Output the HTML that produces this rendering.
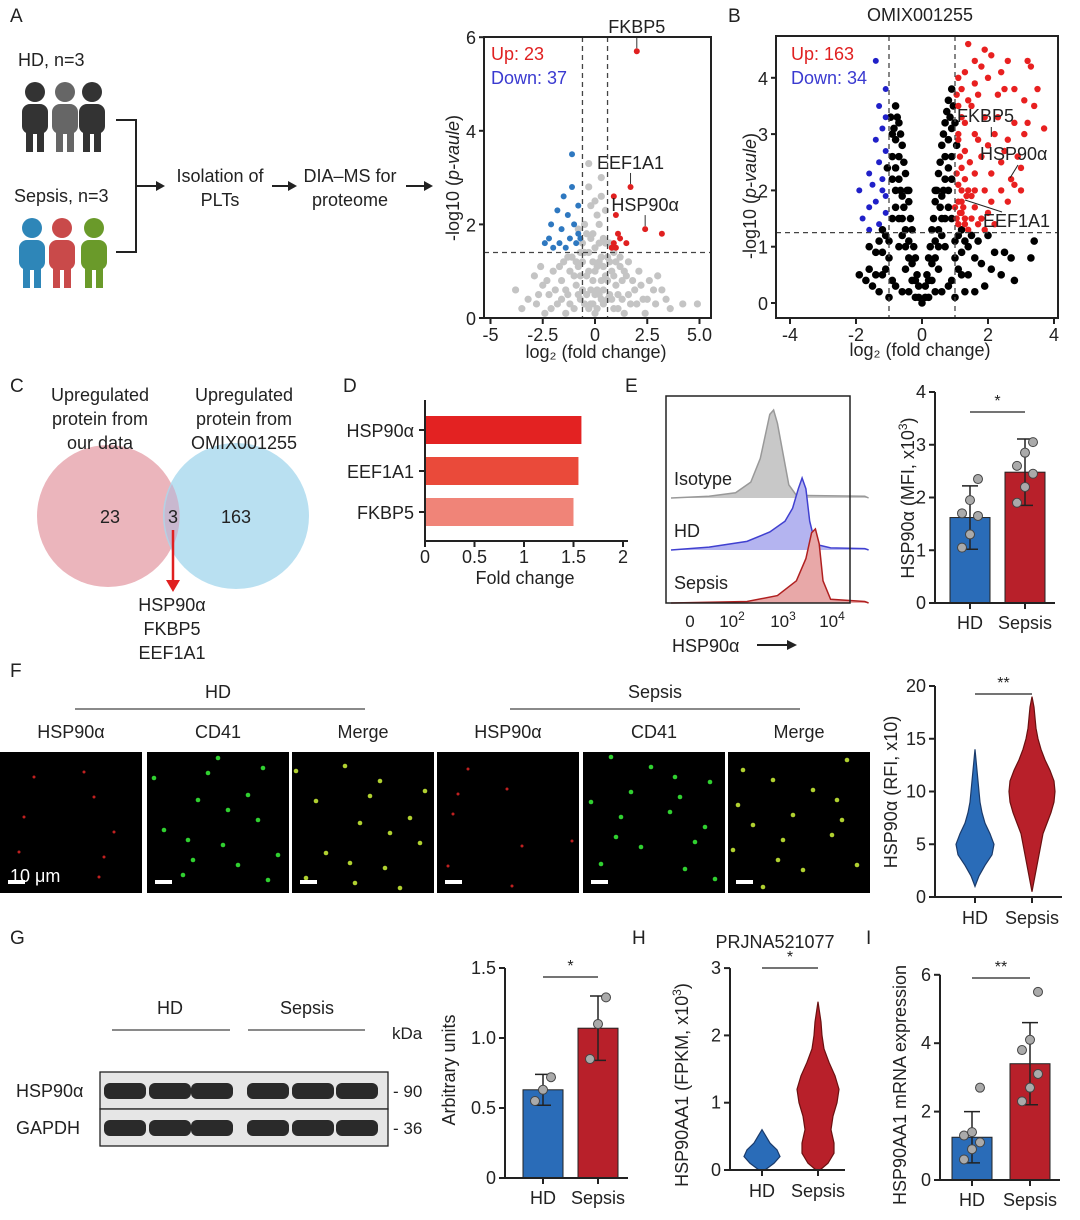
<!DOCTYPE html>
<html><head><meta charset="utf-8"><style>
body{margin:0;background:#fff}
svg{display:block;font-family:"Liberation Sans",Arial,sans-serif}
text{fill:#222}
</style></head><body>
<svg id="fig" width="1080" height="1220" viewBox="0 0 1080 1220">
<g font-size="19">
<text x="10" y="22">A</text>
<text x="728" y="22">B</text>
<text x="10" y="392">C</text>
<text x="343" y="392">D</text>
<text x="625" y="392">E</text>
<text x="10" y="677">F</text>
<text x="10" y="944">G</text>
<text x="632" y="944">H</text>
<text x="866" y="944">I</text>
</g>
<g font-size="18">
<text x="18" y="66">HD, n=3</text>
<text x="14" y="202">Sepsis, n=3</text>
<text x="220" y="182" text-anchor="middle">Isolation of</text>
<text x="220" y="206" text-anchor="middle">PLTs</text>
<text x="350" y="182" text-anchor="middle">DIA–MS for</text>
<text x="350" y="206" text-anchor="middle">proteome</text>
</g>
<g id="people"></g>
<g stroke="#222" stroke-width="2" fill="none">
<path d="M116 120 H136 V252 H116 M136 186 H158"/>
<path d="M272 186 H290 M406 186 H426"/>
</g>
<g fill="#222">
<path d="M165 186 l-9 -5 v10z"/>
<path d="M297 186 l-9 -5 v10z"/>
<path d="M433 186 l-9 -5 v10z"/>
</g>
<g id="volA"></g><g id="volB"></g>
<g>
<circle cx="108" cy="516" r="71" fill="#e8a8b0" opacity="0.85"/>
<circle cx="236" cy="516" r="73" fill="#a8d8ee" opacity="0.8"/>
<path d="M172 484 A71 71 0 0 1 172 548 A73 73 0 0 1 172 484" fill="#c9b8cf"/>
<g font-size="18" text-anchor="middle">
<text x="100" y="401">Upregulated</text><text x="100" y="425">protein from</text><text x="100" y="449">our data</text>
<text x="244" y="401">Upregulated</text><text x="244" y="425">protein from</text><text x="244" y="449">OMIX001255</text>
<text x="110" y="523">23</text><text x="173" y="523">3</text><text x="236" y="523">163</text>
<text x="172" y="611">HSP90α</text><text x="172" y="635">FKBP5</text><text x="172" y="659">EEF1A1</text>
</g>
<path d="M173 530 V584" stroke="#e02020" stroke-width="2.5"/><path d="M173 592 l-7 -12 h14z" fill="#e02020"/>
</g>
<g id="barD"></g>
<g id="flowE"></g><g id="barE"></g>
<g id="micro"></g><g id="violF"></g>
<g id="blot"></g><g id="barG"></g><g id="violH"></g><g id="barI"></g>
</svg>
<script>
const NS='http://www.w3.org/2000/svg';
function mk(tag,at,par){const e=document.createElementNS(NS,tag);for(const k in at)e.setAttribute(k,at[k]);if(par)par.appendChild(e);return e;}
function tx(par,x,y,s,at){const e=mk('text',Object.assign({x:x,y:y},at||{}),par);e.textContent=s;return e;}

// ---------- Data ----------
const volAGrey=[[-3.8,0.6],[-3.2,0.4],[-2.8,0.3],[-2.5,0.7],[-2.2,0.5],[-2.0,1.0],[-1.8,0.3],[-1.6,0.8],[-1.5,1.2],[-1.3,0.5],[-1.2,1.0],[-1.1,1.3],[-1.0,0.2],[-0.9,0.7],[-0.8,1.1],[-0.7,0.4],[-0.6,1.6],[-0.5,2.0],[-0.4,0.9],[-0.3,1.4],[-0.2,0.3],[-0.1,0.8],[0.0,0.1],[0.1,0.6],[0.2,1.2],[0.3,0.4],[0.4,1.7],[0.5,2.3],[0.5,0.9],[0.6,1.3],[0.7,0.5],[0.8,1.0],[0.9,0.2],[1.0,0.7],[1.2,1.1],[1.3,0.4],[1.5,0.9],[1.7,0.3],[1.9,0.6],[2.1,1.0],[2.3,0.4],[2.6,0.8],[2.9,0.3],[3.2,0.6],[3.6,0.2],[4.2,0.3],[4.9,0.3],[-0.3,3.3],[0.3,3.0],[-1.4,0.1],[1.4,0.1],[-2.4,0.1],[2.4,0.1],[-0.6,0.6],[0.6,0.4],[-0.2,2.4],[0.2,2.0],[-0.8,1.9],[0.9,1.4],[-1.6,0.4],[1.8,0.8],
[-2.9,0.9],[-2.7,0.5],[-2.3,0.8],[-2.1,0.2],[-1.9,0.6],[-1.7,1.1],[-1.4,0.6],[-1.2,0.3],[-1.0,0.9],[-0.9,1.2],[-0.8,0.5],[-0.7,0.9],[-0.6,1.2],[-0.5,0.3],[-0.5,1.4],[-0.4,0.5],[-0.4,1.8],[-0.3,1.0],[-0.3,0.2],[-0.2,1.7],[-0.2,0.6],[-0.1,1.2],[-0.1,0.3],[0.0,0.5],[0.0,1.0],[0.0,1.5],[0.1,0.2],[0.1,1.1],[0.2,0.5],[0.2,1.6],[0.3,0.8],[0.3,1.3],[0.4,0.3],[0.4,0.6],[0.4,1.1],[0.5,1.6],[0.6,0.8],[0.7,1.2],[0.8,0.4],[0.9,0.9],[1.0,1.2],[1.1,0.5],[1.1,0.2],[1.3,0.8],[1.4,1.0],[1.6,0.5],[1.6,1.2],[2.0,0.3],[2.2,0.7],[2.5,0.4],[2.8,0.6],[3.0,0.9],[3.4,0.4],[-3.5,0.2],[-2.6,1.1],[-0.1,1.8],[0.1,2.2],[-0.7,1.4],[0.7,1.6],[-1.3,1.3],[1.2,1.3],[0.0,2.5],[-0.3,2.8],[0.3,2.6]];
const volABlue=[[-2.4,1.6],[-2.1,2.0],[-2.0,1.5],[-1.8,2.3],[-1.6,1.9],[-1.5,2.6],[-1.3,2.2],[-1.2,1.7],[-1.1,2.8],[-1.0,2.0],[-0.9,1.6],[-0.8,2.4],[-0.8,1.8],[-1.1,3.5],[-1.4,1.5],[-0.7,1.7],[-1.7,1.6],[-2.2,1.7]];
const volARed=[[0.9,1.6],[1.0,2.2],[1.1,1.8],[0.8,1.5],[1.2,1.7],[1.5,1.6],[0.9,2.6],[1.0,1.5],[3.2,1.8]];
const volALabeled=[[2.0,5.7,'FKBP5'],[1.7,2.8,'EEF1A1'],[2.4,1.9,'HSP90α']];
const volBBlack=[[0,0],[-0.1,0.3],[0.1,0.3],[-0.2,0.8],[0.2,0.8],[-0.3,1.3],[0.3,1.3],[-0.4,1.8],[0.4,1.8],[-0.5,2.3],[0.5,2.3],[-0.6,2.8],[0.6,2.8],[-0.7,3.2],[0.7,3.2],[0.8,3.6],[-0.8,3.5],[0.9,3.8],[-0.3,0.4],[0.3,0.4],[-0.5,0.6],[0.5,0.6],[-0.7,1.0],[0.7,1.0],[-0.9,1.5],[0.9,1.5],[-0.8,2.0],[0.8,2.0],[-0.9,2.6],[0.9,2.6],[-1.0,0.8],[1.0,0.8],[-1.2,0.5],[1.2,0.5],[-1.4,0.9],[1.4,1.0],[-1.6,0.6],[1.6,0.8],[-1.5,0.3],[1.8,0.7],[2.0,1.2],[2.2,0.9],[2.4,0.5],[2.7,0.8],[3.3,0.8],[3.4,1.1],[2.8,0.4],[-0.6,0.2],[0.6,0.2],[-0.4,1.1],[0.4,1.1],[-0.6,1.5],[0.6,1.5],[-0.7,2.2],[0.7,2.2],[-0.8,2.9],[0.8,2.9],[1.0,3.2],[-1.1,1.2],[1.1,1.2],[-0.9,0.4],[0.9,0.4],[-1.3,0.2],[1.3,0.2],[-0.2,0.1],[0.2,0.1],[-1.7,0.4],[1.5,1.2],[2.1,0.6],[-0.5,1.3],[0.5,1.3],[-0.6,1.9],[0.6,1.9],[-0.7,2.6],[0.7,2.6],[-0.4,2.0],[0.4,2.0],
[-0.1,0.1],[0.1,0.1],[-0.15,0.5],[0.15,0.5],[-0.25,1.0],[0.25,1.0],[-0.35,1.5],[0.35,1.5],[-0.45,2.0],[0.45,2.0],[-0.55,2.5],[0.55,2.5],[-0.65,3.0],[0.65,3.0],[-0.75,3.3],[0.75,3.4],[0.85,3.3],[-0.85,3.1],[-0.2,0.4],[0.2,0.4],[-0.4,0.8],[0.4,0.8],[-0.5,1.0],[0.5,1.0],[-0.6,1.2],[0.6,1.2],[-0.7,1.5],[0.7,1.5],[-0.8,1.7],[0.8,1.7],[-0.8,2.4],[0.8,2.4],[-0.9,2.2],[0.9,2.2],[-0.9,3.0],[0.9,3.1],[-1.0,1.1],[1.0,1.1],[-1.1,0.6],[1.1,0.6],[-1.2,0.9],[1.2,0.9],[-1.3,1.1],[1.3,1.1],[-0.8,0.3],[0.8,0.3],[-1.0,0.1],[1.0,0.1],[-0.4,0.2],[0.4,0.2],[-0.3,0.7],[0.3,0.7],[-0.55,1.7],[0.55,1.7],[-0.65,2.0],[0.65,2.0],[-1.4,0.5],[1.4,0.5],[-1.6,1.0],[1.7,1.1],[-1.9,0.5],[1.9,0.3],[2.5,0.9],[1.6,0.2],[-1.2,1.3],[1.2,1.3],[0.95,3.5],[-0.95,3.3],[1.05,2.8],[-1.05,2.4]];
const volBBlue=[[-1.4,4.3],[-1.1,3.8],[-1.3,3.5],[-1.1,3.3],[-1.2,3.1],[-1.4,2.9],[-1.1,2.7],[-1.3,2.5],[-1.6,2.3],[-1.2,2.2],[-1.5,2.1],[-1.9,2.0],[-1.4,1.8],[-1.1,1.9],[-1.6,1.7],[-1.8,1.5],[-1.3,1.4],[-1.6,1.3],[-1.1,1.6],[-1.2,2.0]];
const volBRed=[[1.1,4.0],[1.4,4.6],[1.6,4.3],[1.9,4.5],[2.1,4.4],[2.6,4.3],[3.2,4.3],[3.3,4.2],[1.2,3.8],[1.6,3.9],[2.0,4.0],[2.5,3.8],[2.8,3.8],[1.1,3.5],[1.5,3.5],[3.1,3.6],[3.4,3.5],[1.3,3.2],[1.9,3.3],[2.3,3.3],[2.8,3.2],[3.7,3.1],[1.1,3.0],[1.6,3.0],[2.2,3.0],[2.6,2.9],[3.1,3.0],[1.3,2.7],[1.8,2.6],[2.4,2.5],[2.9,2.6],[1.2,2.4],[1.6,2.3],[2.1,2.3],[2.7,2.2],[3.0,2.4],[1.1,2.1],[1.4,2.0],[1.9,2.0],[2.4,2.0],[2.8,2.1],[1.2,1.8],[1.6,1.7],[2.1,1.8],[1.3,1.5],[1.8,1.5],[1.1,1.4],[1.4,1.3],[1.7,1.4],[2.0,1.6],[1.2,1.6],[1.0,1.7],[1.5,1.9],[2.5,2.7],[3.2,3.2],[1.7,3.7],[2.3,3.7],
[1.05,1.5],[1.15,1.6],[1.25,1.7],[1.1,1.8],[1.2,2.0],[1.05,2.3],[1.15,2.6],[1.1,2.9],[1.2,3.3],[1.05,3.7],[1.3,1.4],[1.35,1.9],[1.45,2.5],[1.5,1.5],[1.3,2.2],[1.6,2.0],[1.9,1.3],[2.2,1.4],[2.6,1.8],[3.0,2.0],[3.5,3.8],[2.0,2.8],[1.7,2.9],[1.4,3.6],[1.8,4.2],[2.4,4.1],[1.3,4.1]];
const barDCats=['HSP90α','EEF1A1','FKBP5'];
const barDVals=[1.58,1.55,1.50];
const barDTicks=['0','0.5','1','1.5','2'];
const barEMeans=[1.62,2.48];
const barESD=[0.6,0.63];
const barEPts=[[1.05,1.3,1.65,1.7,1.95,2.35],[1.9,2.2,2.45,2.6,2.85,3.05]];
const flowIso=[[0,0],[1,0.02],[1.7,0.06],[2.1,0.18],[2.35,0.45],[2.5,0.75],[2.6,0.95],[2.7,1.0],[2.8,0.85],[2.95,0.5],[3.1,0.15],[3.3,0.03],[5.1,0.02],[5.2,0]];
const flowHD=[[0,0],[1,0.04],[2,0.12],[2.6,0.25],[3.0,0.4],[3.2,0.58],[3.35,0.85],[3.45,1.0],[3.55,0.85],[3.65,0.4],[3.8,0.08],[4.2,0.03],[5.1,0.02],[5.2,0]];
const flowSep=[[0,0],[2,0.02],[2.8,0.1],[3.3,0.3],[3.55,0.6],[3.7,0.95],[3.8,1.0],[3.9,0.8],[4.0,0.3],[4.2,0.05],[5.1,0.02],[5.2,0]];
const violFY=[1,2,3,4,5,6,7,8,9,10,11,12,13,14];
const violFHD=[0,4,10,17,19,15,10,7,5,4,3,2,1,0];
const violFYs=[0.5,2,4,6,7,8,9,10,11,12,13,14,15,16,17,18,19];
const violFSep=[0,3,7,11,15,19,22,23,22,18,13,9,6,4,3,2,0];
const barGMeans=[0.63,1.07];
const barGSD=[0.11,0.23];
const barGPts=[[0.55,0.63,0.72],[0.85,1.1,1.29]];
const violHY=[0,0.1,0.2,0.3,0.4,0.5,0.6];
const violHHD=[3,12,18,15,8,4,0];
const violHYs=[0,0.1,0.25,0.4,0.6,0.8,1.0,1.2,1.4,1.6,1.8,2.0,2.2,2.5];
const violHSep=[2,10,16,16,13,15,19,21,17,11,6,4,3,0];
const barIMeans=[1.25,3.4];
const barISD=[0.75,1.2];
const barIPts=[[0.6,0.9,1.1,1.3,1.4,2.7],[2.3,2.7,3.1,3.8,4.1,5.5]];

function axis(par,x0,y0,x1,y1){mk('path',{d:`M${x0} ${y0} V${y1} H${x1}`,stroke:'#222','stroke-width':2,fill:'none'},par);}

(function(){const g=document.getElementById('people');
 const ppl=[[35,92,'#333'],[65,92,'#666'],[92,92,'#333'],[32,228,'#2e86b8'],[62,228,'#c94a4a'],[94,228,'#6a9a2a']];
 ppl.forEach((p,i)=>{const e=mk('g',{fill:p[2]},g);
 
 
 mk('circle',{cx:p[0],cy:p[1],r:10},e);mk('rect',{x:p[0]-13,y:p[1]+12,width:26,height:30,rx:8},e);
 mk('rect',{x:p[0]-9,y:p[1]+30,width:7,height:30},e);mk('rect',{x:p[0]+2,y:p[1]+30,width:7,height:30},e);});})();

(function(){const g=document.getElementById('volA');
 const X=v=>595+20.9*v, Y=v=>318-46.8*v;
 volAGrey.forEach(p=>{const c=mk('circle',{cx:X(p[0]),cy:Y(p[1]),r:3.6,fill:'#c4c4c4'},g);});
 volABlue.forEach(p=>{const c=mk('circle',{cx:X(p[0]),cy:Y(p[1]),r:3,fill:'#2e78c0'},g);});
 volARed.forEach(p=>{const c=mk('circle',{cx:X(p[0]),cy:Y(p[1]),r:3,fill:'#e02020'},g);});
 volALabeled.forEach(p=>{mk('circle',{cx:X(p[0]),cy:Y(p[1]),r:3,fill:'#e02020'},g);mk('line',{x1:X(p[0]),y1:Y(p[1])-3,x2:X(p[0]),y2:Y(p[1])-14,stroke:'#333'},g);
  const t=tx(g,X(p[0]),Y(p[1])-18,p[2],{'font-size':18,'text-anchor':'middle'});});
 [-0.6,0.6].forEach(v=>mk('line',{x1:X(v),x2:X(v),y1:37,y2:318,stroke:'#444','stroke-dasharray':'5 4','stroke-width':1.3},g));
 mk('line',{x1:484,x2:711,y1:Y(1.4),y2:Y(1.4),stroke:'#444','stroke-dasharray':'5 4','stroke-width':1.3},g);
 mk('rect',{x:484,y:37,width:227,height:281,fill:'none',stroke:'#222','stroke-width':2},g);
 [0,2,4,6].forEach(v=>{mk('line',{x1:479,x2:484,y1:Y(v),y2:Y(v),stroke:'#222','stroke-width':2},g);tx(g,476,Y(v)+7,String(v),{'font-size':18,'text-anchor':'end'});});
 [['-5',-5],['-2.5',-2.5],['0',0],['2.5',2.5],['5.0',5]].forEach(t=>{mk('line',{x1:X(t[1]),x2:X(t[1]),y1:318,y2:324,stroke:'#222','stroke-width':2},g);tx(g,X(t[1]),341,t[0],{'font-size':18,'text-anchor':'middle'});});
 tx(g,596,358,'log₂ (fold change)',{'font-size':18,'text-anchor':'middle'});
 const yt=tx(g,0,0,'',{'font-size':18,'text-anchor':'middle',transform:'translate(459 178) rotate(-90)'});yt.innerHTML='-log10 (<tspan font-style="italic">p-vaule</tspan>)';
 
 tx(g,491,60,'Up: 23',{'font-size':18,style:'fill:#e02020'});
 tx(g,491,84,'Down: 37',{'font-size':18,style:'fill:#3a3ad0'});
})();

(function(){const g=document.getElementById('volB');
 const X=v=>922+33*v, Y=v=>303-56.3*v;
 tx(g,920,21,'OMIX001255',{'font-size':18,'text-anchor':'middle'});
 volBBlack.forEach(p=>{const c=mk('circle',{cx:X(p[0]),cy:Y(p[1]),r:3.8,fill:'#000'},g);});
 volBBlue.forEach(p=>{const c=mk('circle',{cx:X(p[0]),cy:Y(p[1]),r:3,fill:'#2020c8'},g);});
 volBRed.forEach(p=>{const c=mk('circle',{cx:X(p[0]),cy:Y(p[1]),r:3.2,fill:'#e82020'},g);});
 [-1,1].forEach(v=>mk('line',{x1:X(v),x2:X(v),y1:36,y2:318,stroke:'#444','stroke-dasharray':'5 4','stroke-width':1.3},g));
 mk('line',{x1:776,x2:1058,y1:Y(1.25),y2:Y(1.25),stroke:'#444','stroke-dasharray':'5 4','stroke-width':1.3},g);
 mk('rect',{x:776,y:36,width:282,height:282,fill:'none',stroke:'#222','stroke-width':2},g);
 [0,1,2,3,4].forEach(v=>{mk('line',{x1:771,x2:776,y1:Y(v),y2:Y(v),stroke:'#222','stroke-width':2},g);tx(g,768,Y(v)+7,String(v),{'font-size':18,'text-anchor':'end'});});
 [-4,-2,0,2,4].forEach(v=>{mk('line',{x1:X(v),x2:X(v),y1:318,y2:324,stroke:'#222','stroke-width':2},g);tx(g,X(v),341,String(v),{'font-size':18,'text-anchor':'middle'});});
 tx(g,920,356,'log₂ (fold change)',{'font-size':18,'text-anchor':'middle'});
 const yt=tx(g,0,0,'',{'font-size':18,'text-anchor':'middle',transform:'translate(756 196) rotate(-90)'});yt.innerHTML='-log10 (<tspan font-style="italic">p-vaule</tspan>)';
 tx(g,791,60,'Up: 163',{'font-size':18,style:'fill:#e02020'});
 tx(g,791,84,'Down: 34',{'font-size':18,style:'fill:#3a3ad0'});
 tx(g,957,122,'FKBP5',{'font-size':18});mk('line',{x1:X(2.1),y1:127,x2:X(2.1),y2:137,stroke:'#222'},g);
 tx(g,980,160,'HSP90α',{'font-size':18});mk('line',{x1:1018,y1:165,x2:1010,y2:178,stroke:'#222'},g);
 tx(g,983,227,'EEF1A1',{'font-size':18});mk('line',{x1:965,y1:200,x2:1002,y2:212,stroke:'#222'},g);
})();

(function(){const g=document.getElementById('barD');
 const X=v=>425+99*v; const cols=['#e32222','#ea4a3a','#f08478'];
 barDCats.forEach((c,i)=>{const y=416+i*41;const r=mk('rect',{x:425,y:y,width:X(barDVals[i])-425,height:28,fill:cols[i]},g);
  
  mk('line',{x1:419,x2:425,y1:y+14,y2:y+14,stroke:'#222','stroke-width':2},g);
  tx(g,414,y+21,c,{'font-size':18,'text-anchor':'end'});});
 axis(g,425,400,628,541);
 barDTicks.forEach((t,i)=>{const x=X(i*0.5);mk('line',{x1:x,x2:x,y1:541,y2:547,stroke:'#222','stroke-width':2},g);tx(g,x,563,t,{'font-size':18,'text-anchor':'middle'});});
 tx(g,525,584,'Fold change',{'font-size':18,'text-anchor':'middle'});
})();

(function(){const g=document.getElementById('flowE');
 const X=v=>671+v*38, base=[498,550,603], H=[88,72,74];
 const sets=[[flowIso,'#c8c8c8','#999','isotype-histogram'],[flowHD,'#b4b4f0','#4040d0','hd-histogram'],[flowSep,'#e8a8a8','#b02020','sepsis-histogram']];
 sets.forEach((s,i)=>{let d=`M${X(s[0][0][0])} ${base[i]}`;s[0].forEach(p=>d+=` L${X(p[0])} ${base[i]-p[1]*H[i]}`);d+=` L${X(s[0][s[0].length-1][0])} ${base[i]}`;
  const p=mk('path',{d:d,fill:s[1],stroke:s[2],'stroke-width':1.5},g);});
 mk('rect',{x:666,y:396,width:184,height:207,fill:'none',stroke:'#222','stroke-width':1.5},g);
 tx(g,674,485,'Isotype',{'font-size':18});tx(g,674,537,'HD',{'font-size':18});tx(g,674,589,'Sepsis',{'font-size':18});
 tx(g,690,627,'0',{'font-size':17,'text-anchor':'middle'});
 const t2=tx(g,732,627,'',{'font-size':17,'text-anchor':'middle'});t2.innerHTML='10<tspan dy="-7" font-size="12">2</tspan>';
 const t3=tx(g,783,627,'',{'font-size':17,'text-anchor':'middle'});t3.innerHTML='10<tspan dy="-7" font-size="12">3</tspan>';
 const t4=tx(g,832,627,'',{'font-size':17,'text-anchor':'middle'});t4.innerHTML='10<tspan dy="-7" font-size="12">4</tspan>';
 tx(g,672,652,'HSP90α',{'font-size':18});mk('path',{d:'M757 645 H788',stroke:'#222','stroke-width':2},g);mk('path',{d:'M797 645 l-10 -5 v10z',fill:'#222'},g);
})();

function barChart(id,ax,y0,pxPer,ticks,tickLbl,means,sds,pts,cx,yTitle,titleX,titleY,sig,sigY,maxY){
 const g=document.getElementById(id);const Y=v=>y0-pxPer*v; const cols=['#2a6cb8','#b8202a'];
 means.forEach((m,i)=>{const r=mk('rect',{x:cx[i]-20,y:Y(m),width:40,height:y0-Y(m),fill:cols[i],stroke:'#222','stroke-width':1},g);
  
  mk('path',{d:`M${cx[i]} ${Y(m-sds[i])} V${Y(m+sds[i])} M${cx[i]-8} ${Y(m-sds[i])} h16 M${cx[i]-8} ${Y(m+sds[i])} h16`,stroke:'#222','stroke-width':1.5,fill:'none'},g);
  pts[i].forEach((v,j)=>{const c=mk('circle',{cx:cx[i]+((j%3)-1)*8,cy:Y(v),r:4.5,fill:'#aaa',stroke:'#444'},g);});});
 axis(g,ax,Y(maxY),cx[1]+30,y0);
 ticks.forEach((v,i)=>{mk('line',{x1:ax-6,x2:ax,y1:Y(v),y2:Y(v),stroke:'#222','stroke-width':2},g);tx(g,ax-9,Y(v)+6,tickLbl[i],{'font-size':18,'text-anchor':'end'});});
 ['HD','Sepsis'].forEach((s,i)=>{mk('line',{x1:cx[i],x2:cx[i],y1:y0,y2:y0+6,stroke:'#222','stroke-width':2},g);tx(g,cx[i],y0+26,s,{'font-size':18,'text-anchor':'middle'});});
 mk('line',{x1:cx[0],x2:cx[1],y1:sigY,y2:sigY,stroke:'#222','stroke-width':1.3},g);tx(g,(cx[0]+cx[1])/2,sigY-6,sig,{'font-size':16,'text-anchor':'middle'});
 const t=tx(g,0,0,'',{'font-size':18,'text-anchor':'middle',transform:`translate(${titleX} ${titleY}) rotate(-90)`});t.innerHTML=yTitle;
 
 return g;}
barChart('barE',935,603,52.75,[0,1,2,3,4],['0','1','2','3','4'],barEMeans,barESD,barEPts,[970,1025],'HSP90α (MFI, x10<tspan dy="-7" font-size="12">3</tspan><tspan dy="7">)</tspan>',914,498,'*',412,4);
barChart('barG',505,1178,140,[0,0.5,1,1.5],['0','0.5','1.0','1.5'],barGMeans,barGSD,barGPts,[543,598],'Arbitrary units',455,1070,'*',977,1.5);
barChart('barI',940,1180,34.2,[0,2,4,6],['0','2','4','6'],barIMeans,barISD,barIPts,[972,1030],'HSP90AA1 mRNA expression',906,1085,'**',978,6);

function violin(id,ax,y0,pxPer,ticks,series,cx,yTitle,titleX,titleY,sig,sigY,maxY,xEnd){
 const g=document.getElementById(id);const Y=v=>y0-pxPer*v;const cols=[['#2a6cb8','#1a3a6a'],['#b8202a','#6a1010']];
 series.forEach((s,i)=>{const ys=s[0],ws=s[1];let d='';ys.forEach((v,j)=>d+=(j?' L':'M')+(cx[i]+ws[j])+' '+Y(v));for(let j=ys.length-1;j>=0;j--)d+=` L${cx[i]-ws[j]} ${Y(ys[j])}`;d+='Z';
  const p=mk('path',{d:d,fill:cols[i][0],stroke:cols[i][1],'stroke-width':1.2},g);});
 axis(g,ax,Y(maxY),xEnd,y0);
 ticks.forEach(v=>{mk('line',{x1:ax-6,x2:ax,y1:Y(v),y2:Y(v),stroke:'#222','stroke-width':2},g);tx(g,ax-9,Y(v)+6,String(v),{'font-size':18,'text-anchor':'end'});});
 ['HD','Sepsis'].forEach((s,i)=>{mk('line',{x1:cx[i],x2:cx[i],y1:y0,y2:y0+6,stroke:'#222','stroke-width':2},g);tx(g,cx[i],y0+27,s,{'font-size':18,'text-anchor':'middle'});});
 mk('line',{x1:cx[0],x2:cx[1],y1:sigY,y2:sigY,stroke:'#222','stroke-width':1.3},g);tx(g,(cx[0]+cx[1])/2,sigY-6,sig,{'font-size':16,'text-anchor':'middle'});
 const t=tx(g,0,0,'',{'font-size':18,'text-anchor':'middle',transform:`translate(${titleX} ${titleY}) rotate(-90)`});t.innerHTML=yTitle;
 }
violin('violF',935,897,10.55,[0,5,10,15,20],[[violFY,violFHD],[violFYs,violFSep]],[975,1032],'HSP90α (RFI, x10)',897,792,'**',694,20,1062);
violin('violH',730,1170,67.3,[0,1,2,3],[[violHY,violHHD],[violHYs,violHSep]],[762,818],'HSP90AA1 (FPKM, x10<tspan dy="-7" font-size="12">3</tspan><tspan dy="7">)</tspan>',688,1085,'*',968,3,845);
(function(){const g=document.getElementById('violH');tx(g,775,948,'PRJNA521077',{'font-size':18,'text-anchor':'middle'});})();

const microDots=[[20,60],[50,110],[90,40],[120,130],[30,20],[70,85],[110,75],[60,30],[100,100],[40,125],[15,95],[130,50],[80,15],[25,80],[95,120],[55,65]];
(function(){const g=document.getElementById('micro');
 const xs=[0,147,292,437,583,728],w=142;
 tx(g,218,698,'HD',{'font-size':18,'text-anchor':'middle'});tx(g,655,698,'Sepsis',{'font-size':18,'text-anchor':'middle'});
 mk('line',{x1:75,x2:365,y1:709,y2:709,stroke:'#444','stroke-width':1.3},g);mk('line',{x1:510,x2:800,y1:709,y2:709,stroke:'#444','stroke-width':1.3},g);
 const labs=['HSP90α','CD41','Merge'];
 xs.forEach((x,i)=>{const r=mk('rect',{x:x,y:752,width:w,height:141,fill:'#000'},g);
  tx(g,x+w/2,738,labs[i%3],{'font-size':18,'text-anchor':'middle'});
  const col=i%3==0?'#c02020':i%3==1?'#30d030':'#b0d030';
  microDots.forEach((d,j)=>{if(i%3==0&&j%2)return;mk('circle',{cx:x+((d[0]+i*17)%134)+4,cy:752+((d[1]+i*23)%132)+5,r:i%3==0?1.5:2.3,fill:col},g);});
  mk('rect',{x:x+8,y:880,width:17,height:4,fill:'#fff'},g);});
 tx(g,10,882,'10 μm',{'font-size':18,style:'fill:#fff'});
})();

(function(){const g=document.getElementById('blot');
 tx(g,170,1014,'HD',{'font-size':18,'text-anchor':'middle'});tx(g,307,1014,'Sepsis',{'font-size':18,'text-anchor':'middle'});
 mk('line',{x1:112,x2:230,y1:1030,y2:1030,stroke:'#444','stroke-width':1.3},g);mk('line',{x1:248,x2:365,y1:1030,y2:1030,stroke:'#444','stroke-width':1.3},g);
 tx(g,392,1039,'kDa',{'font-size':17});
 [[1072,'HSP90α','90'],[1109,'GAPDH','36']].forEach(r=>{const b=mk('rect',{x:100,y:r[0],width:288,height:37,fill:'#e6e6e6',stroke:'#222','stroke-width':1.3},g);
  tx(g,16,r[0]+25,r[1],{'font-size':18});tx(g,393,r[0]+25,'- '+r[2],{'font-size':17});
  [125,170,212,268,313,357].forEach(x=>mk('rect',{x:x-21,y:r[0]+11,width:42,height:16,rx:6,fill:'#2a2a2a'},g));});
})();
</script>
</body></html>
